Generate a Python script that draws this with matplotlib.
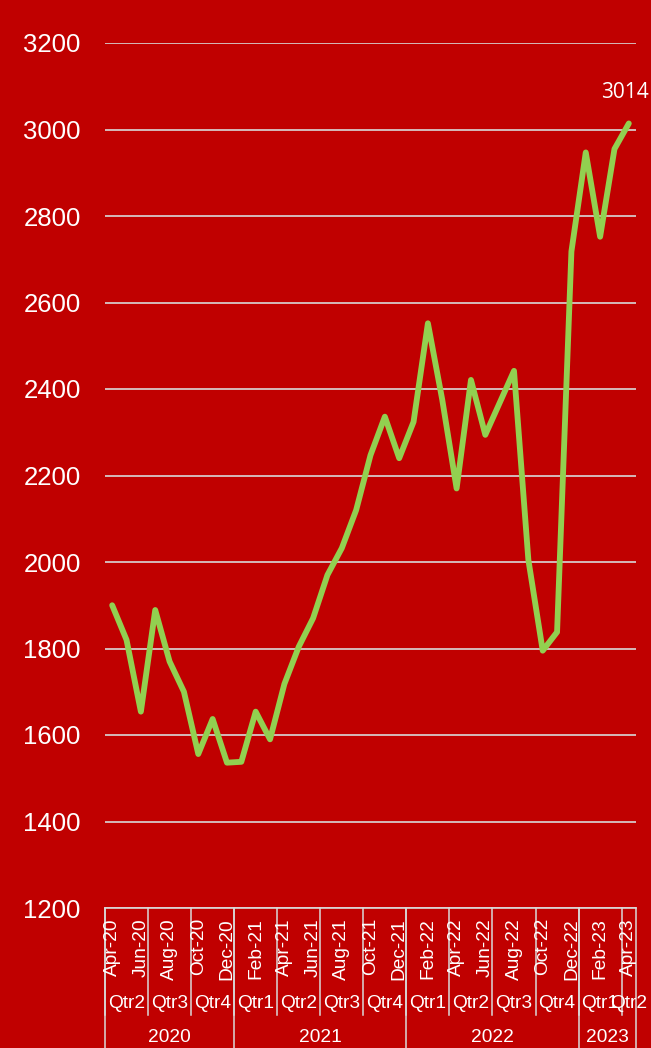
import matplotlib
matplotlib.use('Agg')
import matplotlib.pyplot as plt
from matplotlib.transforms import blended_transform_factory

# Данные: помесячные значения Apr-20 .. Apr-23
months = ['Apr-20', 'May-20', 'Jun-20', 'Jul-20', 'Aug-20', 'Sep-20', 'Oct-20', 'Nov-20', 'Dec-20',
          'Jan-21', 'Feb-21', 'Mar-21', 'Apr-21', 'May-21', 'Jun-21', 'Jul-21', 'Aug-21', 'Sep-21',
          'Oct-21', 'Nov-21', 'Dec-21', 'Jan-22', 'Feb-22', 'Mar-22', 'Apr-22', 'May-22', 'Jun-22',
          'Jul-22', 'Aug-22', 'Sep-22', 'Oct-22', 'Nov-22', 'Dec-22', 'Jan-23', 'Feb-23', 'Mar-23',
          'Apr-23']
values = [1900, 1820, 1654, 1889, 1770, 1700, 1556, 1637, 1536,
          1538, 1654, 1590, 1718, 1804, 1870, 1970, 2032, 2120,
          2247, 2336, 2240, 2324, 2552, 2375, 2170, 2421, 2294,
          2368, 2442, 2005, 1795, 1838, 2718, 2947, 2752, 2955,
          3014]
quarters = ['Qtr2', 'Qtr3', 'Qtr4', 'Qtr1', 'Qtr2', 'Qtr3', 'Qtr4',
            'Qtr1', 'Qtr2', 'Qtr3', 'Qtr4', 'Qtr1', 'Qtr2']
quarter_sizes = [3, 3, 3, 3, 3, 3, 3, 3, 3, 3, 3, 3, 1]
years = ['2020', '2021', '2022', '2023']
year_sizes = [9, 12, 12, 4]
y_ticks = [1200, 1400, 1600, 1800, 2000, 2200, 2400, 2600, 2800, 3000, 3200]

BG = '#C00000'
GREEN = '#92D050'
GRID = '#D9D9D9'
W, H = 651, 1048

plt.rcParams['font.family'] = ['Liberation Sans', 'DejaVu Sans']

fig = plt.figure(figsize=(W / 100, H / 100), dpi=100, facecolor=BG)
ax = fig.add_axes([105 / W, 1 - 908 / H, (636 - 105) / W, (908 - 43) / H], facecolor=BG)

x = list(range(len(values)))
ax.plot(x, values, color=GREEN, lw=4.2, solid_joinstyle='round', solid_capstyle='round', zorder=3)

ax.set_xlim(-0.5, len(values) - 0.5)
ax.set_ylim(1200, 3200)
ax.set_yticks(y_ticks)
ax.tick_params(axis='y', length=0, pad=17.5, labelsize=18.5, labelcolor='white')
ax.set_xticks([])
ax.grid(axis='y', color=GRID, lw=1.2)
ax.set_axisbelow(True)
for s in ['top', 'right', 'left']:
    ax.spines[s].set_visible(False)
ax.spines['bottom'].set_color(GRID)
ax.spines['bottom'].set_linewidth(1.2)

# подпись последней точки
ax.annotate(f'{values[-1]}', (x[-1], values[-1]), xytext=(-4, 31), textcoords='offset pixels',
            ha='center', va='center', color='white', fontsize=15, family='Open Sans',
            annotation_clip=False)

# многоуровневая ось категорий
tr = blended_transform_factory(ax.transData, fig.transFigure)
fy = lambda py: 1 - py / H

for i in range(0, len(months), 2):
    ax.text(x[i], fy(918), months[i], rotation=90, ha='center', va='top', color='white',
            fontsize=13.8, transform=tr, clip_on=False)

pos = 0
for q, n in zip(quarters, quarter_sizes):
    ax.text(pos - 0.5 + n / 2, fy(1004), q, ha='center', va='center', color='white',
            fontsize=13.8, transform=tr, clip_on=False)
    ax.plot([pos - 0.5, pos - 0.5], [fy(908), fy(1015)], color=GRID, lw=1.1,
            transform=tr, clip_on=False)
    pos += n

pos = 0
for yr, n in zip(years, year_sizes):
    ax.text(pos - 0.5 + n / 2, fy(1038), yr, ha='center', va='center', color='white',
            fontsize=13.8, transform=tr, clip_on=False)
    ax.plot([pos - 0.5, pos - 0.5], [fy(908), fy(1048)], color=GRID, lw=1.1,
            transform=tr, clip_on=False)
    pos += n
ax.plot([pos - 0.5, pos - 0.5], [fy(908), fy(1048)], color=GRID, lw=1.1,
        transform=tr, clip_on=False)

fig.savefig('out.png', dpi=100, facecolor=BG)
